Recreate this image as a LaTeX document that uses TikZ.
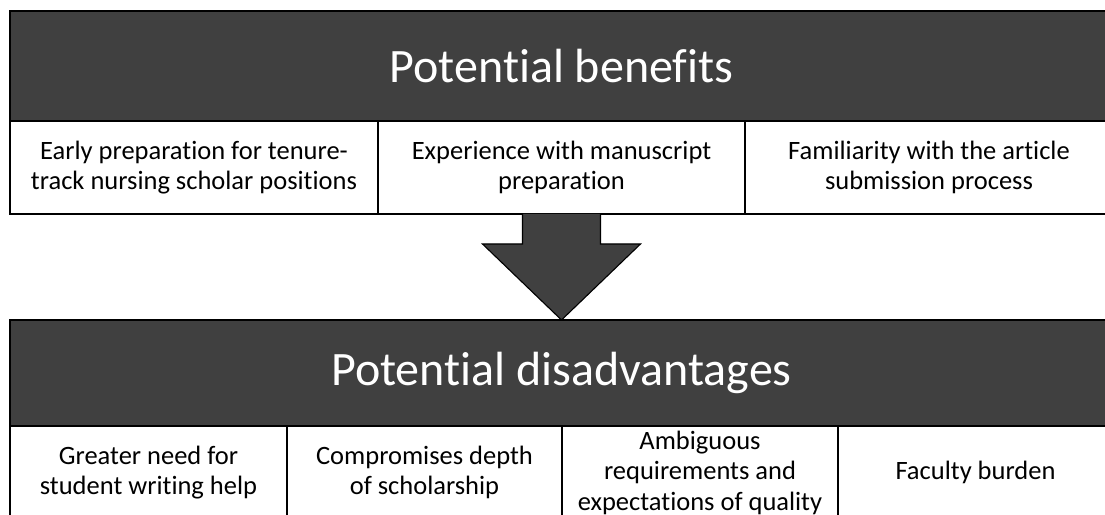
\documentclass[tikz,border=0pt]{standalone}
\usepackage{fontspec}
\setmainfont{Carlito}[Ligatures=NoCommon]
\usetikzlibrary{positioning,calc}
\definecolor{bannergray}{HTML}{404040}

\begin{document}
\begin{tikzpicture}[x=1pt, y=1pt,
    banner/.style={draw, fill=bannergray, text=white, line width=1.1pt, minimum width=1103pt, inner sep=0pt, outer sep=0pt, font=\fontsize{48}{56}\selectfont},
    cell/.style={draw, fill=white, line width=1.1pt, minimum height=93pt, inner sep=0pt, outer sep=0pt, align=center, font=\fontsize{26.5}{30.5}\selectfont}]
    \useasboundingbox (0,0) rectangle (1105,514);
    \clip (0,0) rectangle (1105,514);

    % Benefits Block
    \node[banner, minimum height=110pt, anchor=north west] (benefits) at (10,503) {Potential benefits};
    \node[cell, minimum width=368pt, anchor=north west] (early) at (benefits.south west) {Early preparation for tenure-\\track nursing scholar positions};
    \node[cell, minimum width=367pt, right=0pt of early] (manuscript) {Experience with manuscript\\preparation};
    \node[cell, minimum width=368pt, right=0pt of manuscript] (submission) {Familiarity with the article\\submission process};

    % Disadvantages Block
    \node[banner, minimum height=106pt, anchor=north west] (disadv) at (10,194) {Potential disadvantages};
    \node[cell, minimum width=277pt, anchor=north west] (writing) at (disadv.south west) {Greater need for\\student writing help};
    \node[cell, minimum width=275pt, right=0pt of writing] (depth) {Compromises depth\\of scholarship};
    \node[cell, minimum width=276pt, right=0pt of depth] (ambiguous) {Ambiguous\\requirements and\\expectations of quality};
    \node[cell, minimum width=275pt, right=0pt of ambiguous] (burden) {Faculty burden};

    % Arrow
    \draw[fill=bannergray, line width=1.1pt] ($(manuscript.south)+(-39,0)$) -- ($(manuscript.south)+(-39,-30)$)
        -- ($(manuscript.south)+(-79,-30)$) -- (disadv.north) -- ($(manuscript.south)+(79,-30)$)
        -- ($(manuscript.south)+(39,-30)$) -- ($(manuscript.south)+(39,0)$);
\end{tikzpicture}
\end{document}
